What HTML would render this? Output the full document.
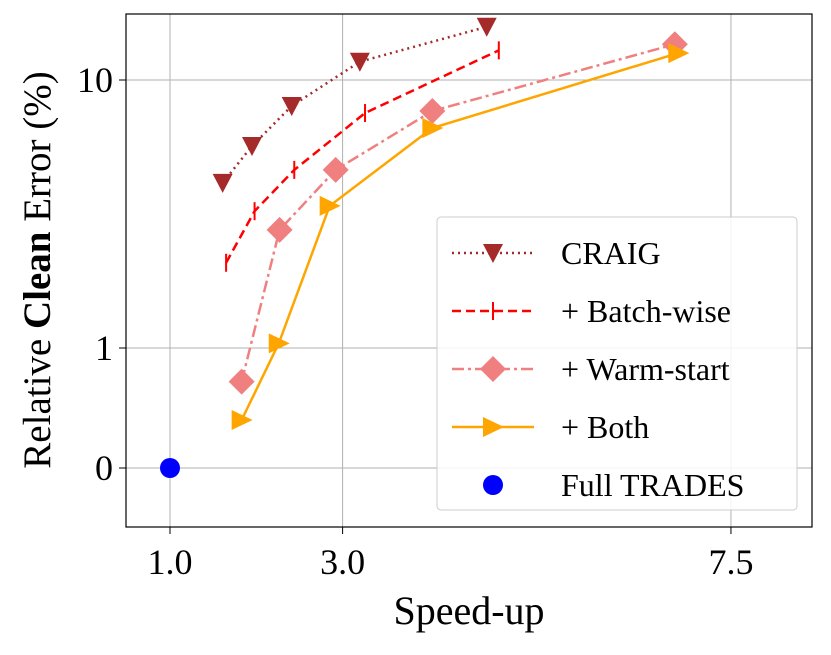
<!DOCTYPE html>
<html><head><meta charset="utf-8"><style>
body{margin:0;background:#fff}
svg text{font-family:"Liberation Serif",serif;fill:#000}
</style></head><body>
<svg id="chart" width="831" height="650" xmlns="http://www.w3.org/2000/svg">
<g id="grid"></g>
<g id="series"></g>
<rect x="126" y="14" width="686" height="513" fill="none" stroke="#000" stroke-width="1.2"/>
<g id="axes"></g>
<text x="469" y="624" font-size="40" text-anchor="middle">Speed-up</text>
<text transform="translate(50,270) rotate(-90)" font-size="39" text-anchor="middle">Relative <tspan font-weight="bold">Clean</tspan> Error (%)</text>
<g id="legend"></g>
</svg>
<script>
const xTicks=[1.0,3.0,7.5];
const xTickLabels=["1.0","3.0","7.5"];
const yTicks=[0,1,10];
const yTickLabels=["0","1","10"];
const seriesNames=["CRAIG","+ Batch-wise","+ Warm-start","+ Both","Full TRADES"];
const craigX=[1.61,1.95,2.41,3.20,4.67];
const craigY=[4.13,5.67,8.0,11.7,15.8];
const batchX=[1.65,1.98,2.44,3.26,4.81];
const batchY=[2.08,3.24,4.62,7.53,12.9];
const warmX=[1.83,2.27,2.92,4.04,6.85];
const warmY=[0.72,2.76,4.62,7.66,13.6];
const bothX=[1.83,2.26,2.85,4.04,6.89];
const bothY=[0.40,1.04,3.39,6.62,12.6];
const fullX=[1.0];
const fullY=[0];

const NS="http://www.w3.org/2000/svg";
function X(v){return 170+(v-1)*86.3;}
function Y(v){return v<=1?468-120*v:348-268*Math.log10(v);}
function mk(tag,attrs,parent){const e=document.createElementNS(NS,tag);for(const k in attrs)e.setAttribute(k,attrs[k]);parent.appendChild(e);return e;}
const grid=document.getElementById('grid'),axes=document.getElementById('axes'),ser=document.getElementById('series'),leg=document.getElementById('legend');
xTicks.forEach((t,i)=>{
 const gl=mk('line',{x1:X(t),x2:X(t),y1:14,y2:527,stroke:'#b0b0b0','stroke-width':1},grid);
 
 
 mk('line',{x1:X(t),x2:X(t),y1:527,y2:534,stroke:'#000','stroke-width':1},axes);
 const tx=mk('text',{x:X(t),y:574,'font-size':36,'text-anchor':'middle'},axes);tx.textContent=xTickLabels[i];
 
 
});
yTicks.forEach((t,i)=>{
 const gl=mk('line',{x1:126,x2:812,y1:Y(t),y2:Y(t),stroke:'#b0b0b0','stroke-width':1},grid);
 
 
 mk('line',{x1:119,x2:126,y1:Y(t),y2:Y(t),stroke:'#000','stroke-width':1},axes);
 const tx=mk('text',{x:113,y:Y(t)+12,'font-size':36,'text-anchor':'end'},axes);tx.textContent=yTickLabels[i];
 
 
});
function marker(type,cx,cy,color,parent){
 let e;
 if(type==='tri')e=mk('polygon',{points:`${cx-10},${cy-9} ${cx+10},${cy-9} ${cx},${cy+10}`,fill:color},parent);
 else if(type==='vline')e=mk('line',{x1:cx,x2:cx,y1:cy-9,y2:cy+9,stroke:color,'stroke-width':2},parent);
 else if(type==='diamond')e=mk('polygon',{points:`${cx},${cy-13} ${cx+13},${cy} ${cx},${cy+13} ${cx-13},${cy}`,fill:color},parent);
 else if(type==='right')e=mk('polygon',{points:`${cx-10},${cy-10} ${cx+11},${cy} ${cx-10},${cy+10}`,fill:color},parent);
 else e=mk('circle',{cx:cx,cy:cy,r:10,fill:color},parent);
 return e;
}
const defs=[
 {xs:craigX,ys:craigY,color:'#a52a2a',dash:'2,4',m:'tri',name:'craig'},
 {xs:batchX,ys:batchY,color:'#ff0000',dash:'9,5',m:'vline',name:'batch-wise'},
 {xs:warmX,ys:warmY,color:'#f08080',dash:'12,4,3,4',m:'diamond',name:'warm-start'},
 {xs:bothX,ys:bothY,color:'#ffa500',dash:'',m:'right',name:'both'},
 {xs:fullX,ys:fullY,color:'#0000ff',dash:null,m:'circle',name:'full-trades'}
];
defs.forEach(d=>{
 const g=mk('g',{},ser);
 
 
 if(d.dash!==null){
  const pts=d.xs.map((x,i)=>X(x)+','+Y(d.ys[i])).join(' ');
  const a={points:pts,fill:'none',stroke:d.color,'stroke-width':2.5};
  if(d.dash)a['stroke-dasharray']=d.dash;
  mk('polyline',a,g);
 }
 d.xs.forEach((x,i)=>{
  const m=marker(d.m,X(x),Y(d.ys[i]),d.color,g);
  
  
 });
});
const box=mk('rect',{x:437,y:217,width:360,height:293,rx:4,fill:'#fff','fill-opacity':0.85,stroke:'#ccc','stroke-width':1},leg);


defs.forEach((d,i)=>{
 const cy=253+i*58;
 const g=mk('g',{},leg);
 
 
 if(d.dash!==null){
  const a={x1:452,x2:534,y1:cy,y2:cy,stroke:d.color,'stroke-width':2.5};
  if(d.dash)a['stroke-dasharray']=d.dash;
  mk('line',a,g);
 }
 marker(d.m,493,cy,d.color,g);
 const t=mk('text',{x:561,y:cy+11,'font-size':32},g);t.textContent=seriesNames[i];
});
</script>
</body></html>
